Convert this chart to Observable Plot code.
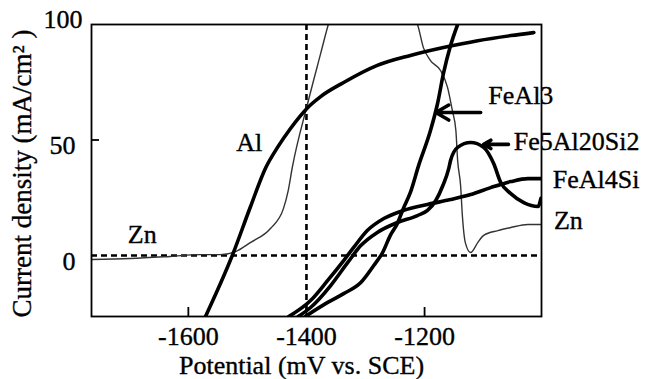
<!DOCTYPE html>
<html><head><meta charset="utf-8">
<script src="https://cdn.jsdelivr.net/npm/d3@7"></script>
<script src="https://cdn.jsdelivr.net/npm/@observablehq/plot@0.6"></script>
<style>html,body{margin:0;padding:0;background:#fff;} svg{display:block} svg text{font-family:"Liberation Serif","Times New Roman",serif !important;stroke:#000;stroke-width:0.35px;}</style>
</head><body><div id="chart"></div>
<script>
// Potential (mV vs. SCE) and current density (mA/cm2)
const alPotential = [-1571,-1525,-1495,-1469,-1449,-1427,-1398,-1376,-1337,-1280,-1224,-1168,-1110,-1054,-1015];
const alCurrent   = [-26.4,0.4,21,38,46.8,55,64,68.8,74.9,82.3,86.6,90,93,95.2,96.5];

const znPotential = [-1764,-1698,-1631,-1580,-1546,-1520,-1495,-1461,-1439,-1431,-1424,-1398,-1376,-1363,-1300,-1212,-1202,-1190,-1173,-1161,-1153,-1147,-1144,-1139,-1136,-1131,-1122,-1110,-1100,-1076,-1054,-1025,-1003];
const znCurrent   = [-1.7,-1.3,-0.4,0.4,0.4,1.7,5.6,11.7,20.3,28,38.1,65.8,87.4,100,130,100,90,84.4,80.1,72.7,62.8,54.1,41.1,30.3,17.3,5.6,1.3,5.6,8.7,10.8,12.1,13.4,13.4];

const feAl3Potential = [-1402,-1364,-1337,-1308,-1286,-1271,-1258,-1246,-1236,-1224,-1210,-1190,-1178,-1168,-1156,-1144];
const feAl3Current   = [-26.4,-20.3,-16.5,-11.7,-4.3,1.3,8.7,13.9,20.3,27.3,39,54.1,65.8,78.8,90.9,100];

const fe5Potential = [-1414,-1393,-1359,-1330,-1308,-1280,-1246,-1212,-1195,-1181,-1169,-1159,-1156,-1144,-1122,-1100,-1083,-1071,-1054,-1032,-1008,-1003];
const fe5Current   = [-26.4,-22.5,-13,-3,4.3,10,14.3,17.3,19.5,23.8,30.3,37.7,41.1,46.8,48.9,46.8,39.8,31.6,26.8,22.9,21.2,24.7];

const feAl4SiPotential = [-1430,-1393,-1364,-1337,-1320,-1297,-1269,-1236,-1195,-1156,-1122,-1088,-1054,-1025,-1003];
const feAl4SiCurrent   = [-26.4,-19.5,-10.8,-2.2,3.5,10.8,16,19.5,22.1,24.2,26.4,29.4,32,33.3,33.3];

const xTicks = [-1600, -1400, -1200];
const yTicks = [0, 50, 100];
const xDomain = [-1764, -1002];
const yDomain = [-26.4, 100];

// annotation labels (data coordinates) and arrows
const centeredLabels = ["Al", "Zn"];
const centeredPotential = [-1497, -1678];
const centeredCurrent = [48.9, 9.1];
const sideLabels = ["Zn", "FeAl3", "Fe5Al20Si2", "FeAl4Si"];
const sidePotential = [-981, -1092, -1049, -983];
const sideCurrent = [15.2, 69.3, 49.4, 32.9];
const arrowFrom = [[-1105, 61.9], [-1058, 48.1]];
const arrowTo   = [[-1181, 61.9], [-1100, 48.1]];

const toRows = (xs, ys) => xs.map((x, i) => ({x, y: ys[i]}));
const toLabels = (ts, xs, ys) => ts.map((t, i) => ({t, x: xs[i], y: ys[i]}));
const arrows = arrowFrom.map((f, i) => ({x1: f[0], y1: f[1], x2: arrowTo[i][0], y2: arrowTo[i][1]}));

const W = 650, H = 379, mL = 91, mR = 109, mT = 24, mB = 63;
const FONT = '"Liberation Serif", "Times New Roman", serif';
const FS = 26;
const fmt = d => String(d);

const thick = {x: "x", y: "y", stroke: "black", strokeWidth: 3.6, curve: "monotone-x", clip: true};

const chart = Plot.plot({
  width: W, height: H,
  marginLeft: mL, marginRight: mR, marginTop: mT, marginBottom: mB,
  style: {fontFamily: FONT, fontSize: FS + "px", color: "black", background: "white"},
  x: {domain: xDomain},
  y: {domain: yDomain},
  marks: [
    Plot.ruleY([0], {stroke: "black", strokeWidth: 2.6, strokeDasharray: "6,4"}),
    Plot.ruleX([-1400], {stroke: "black", strokeWidth: 2.6, strokeDasharray: "6,4"}),
    Plot.line(toRows(znPotential, znCurrent), {x: "x", y: "y", stroke: "#333", strokeWidth: 1.4, curve: "monotone-x", clip: true}),
    Plot.line(toRows(alPotential, alCurrent), thick),
    Plot.line(toRows(feAl3Potential, feAl3Current), thick),
    Plot.line(toRows(fe5Potential, fe5Current), thick),
    Plot.line(toRows(feAl4SiPotential, feAl4SiCurrent), thick),
    Plot.frame({stroke: "black", strokeWidth: 1.8}),
    Plot.tickX(xTicks, {stroke: "black", strokeWidth: 1.8, insetTop: (H - mT - mB) - 9}),
    Plot.tickY([50], {stroke: "black", strokeWidth: 1.8, insetRight: (W - mL - mR) - 8}),
    Plot.axisX({ticks: xTicks, tickFormat: fmt, tickSize: 0, tickPadding: 10, label: null, fontSize: FS}),
    Plot.axisY({ticks: yTicks.slice(0, 2), tickFormat: fmt, tickSize: 0, tickPadding: 16, dy: 6, label: null, fontSize: FS}),
    Plot.axisY({ticks: yTicks.slice(2), tickFormat: fmt, tickSize: 0, tickPadding: 9, dy: -5, label: null, fontSize: FS}),
    Plot.text(["Potential (mV vs. SCE)"], {frameAnchor: "bottom", textAnchor: "middle", dx: -15, dy: 49, fontSize: FS, lineAnchor: "middle"}),
    Plot.text(["Current density (mA/cm² )"], {frameAnchor: "left", textAnchor: "middle", rotate: -90, dx: -69, dy: 3, fontSize: 27, lineAnchor: "middle"}),
    Plot.text(toLabels(centeredLabels, centeredPotential, centeredCurrent), {x: "x", y: "y", text: "t", textAnchor: "middle", fontSize: FS, lineAnchor: "middle"}),
    Plot.text(toLabels(sideLabels, sidePotential, sideCurrent), {x: "x", y: "y", text: "t", textAnchor: "start", fontSize: FS, lineAnchor: "middle"}),
    Plot.arrow(arrows, {x1: "x1", y1: "y1", x2: "x2", y2: "y2", stroke: "black", strokeWidth: 3.6, headLength: 16})
  ]
});
document.getElementById("chart").appendChild(chart);
</script>
</body></html>
